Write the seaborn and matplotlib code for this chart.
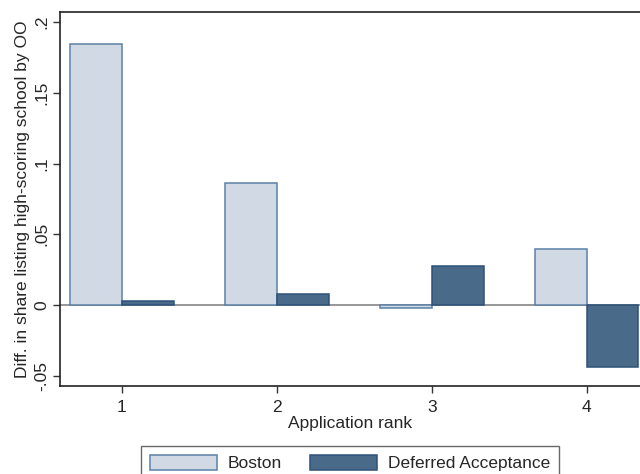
import seaborn as sns
import matplotlib.pyplot as plt
import pandas as pd

# values
ranks = ["1", "2", "3", "4"]
boston = [0.1845, 0.086, -0.0017, 0.0396]
deferred = [0.0026, 0.0078, 0.0276, -0.0438]
groups = ["Boston", "Deferred Acceptance"]
yticks = [-0.05, 0, 0.05, 0.1, 0.15, 0.2]
ytick_labels = ["-.05", "0", ".05", ".1", ".15", ".2"]

df = pd.DataFrame({
    "rank": ranks * 2,
    "diff": boston + deferred,
    "group": [groups[0]] * 4 + [groups[1]] * 4,
})

sns.set_style("white")
plt.rcParams["font.family"] = ["Liberation Sans", "DejaVu Sans"]

fills = {"Boston": "#d1dae4", "Deferred Acceptance": "#4a6a8a"}
edges = ["#5c80a6", "#2d5278"]

fig = plt.figure(figsize=(6.4, 4.74), dpi=100)
ax = fig.add_axes([0.09375, 0.1857, 0.90625, 0.789])

ax.axhline(0, color="#7a7a7a", lw=1.1, zorder=0)

sns.barplot(data=df, x="rank", y="diff", hue="group", hue_order=groups,
            palette=fills, width=0.67, gap=0, linewidth=1.1,
            saturation=1, ax=ax, zorder=2)

for cont, ec in zip(ax.containers, edges):
    for p in cont:
        p.set_edgecolor(ec)

ax.set_xlim(-0.4, 3.345)
ax.set_ylim(-0.0571, 0.2071)
ax.set_yticks(yticks)
ax.set_yticklabels(ytick_labels, rotation=90, va="center", fontsize=12.5)
ax.tick_params(axis="x", labelsize=12.5, pad=5)
ax.tick_params(axis="y", pad=3)
ax.tick_params(axis="both", direction="out", length=5, width=1,
               color="#333333", left=True, bottom=True)

ax.set_xlabel("Application rank", fontsize=12.5, labelpad=1)
ax.set_ylabel("Diff. in share listing high-scoring school by OO",
              fontsize=12.5, labelpad=3)

for side in ["left", "bottom", "top"]:
    ax.spines[side].set_color("#222222")
    ax.spines[side].set_linewidth(1.2)
ax.spines["right"].set_visible(False)

sns.move_legend(ax, "upper center", bbox_to_anchor=(0.547, 0.059),
                bbox_transform=fig.transFigure, ncol=2, title=None,
                frameon=True, fontsize=12.5, handlelength=3.85,
                handleheight=1.0, columnspacing=1.6, borderpad=0.5,
                borderaxespad=0, handletextpad=0.65, fancybox=False,
                edgecolor="#444444")
leg = ax.get_legend()
leg.get_frame().set_linewidth(1.0)
for h, ec in zip(leg.legend_handles, edges):
    h.set_edgecolor(ec)
    h.set_linewidth(1.1)

fig.savefig("out.png", dpi=100)
plt.close(fig)
